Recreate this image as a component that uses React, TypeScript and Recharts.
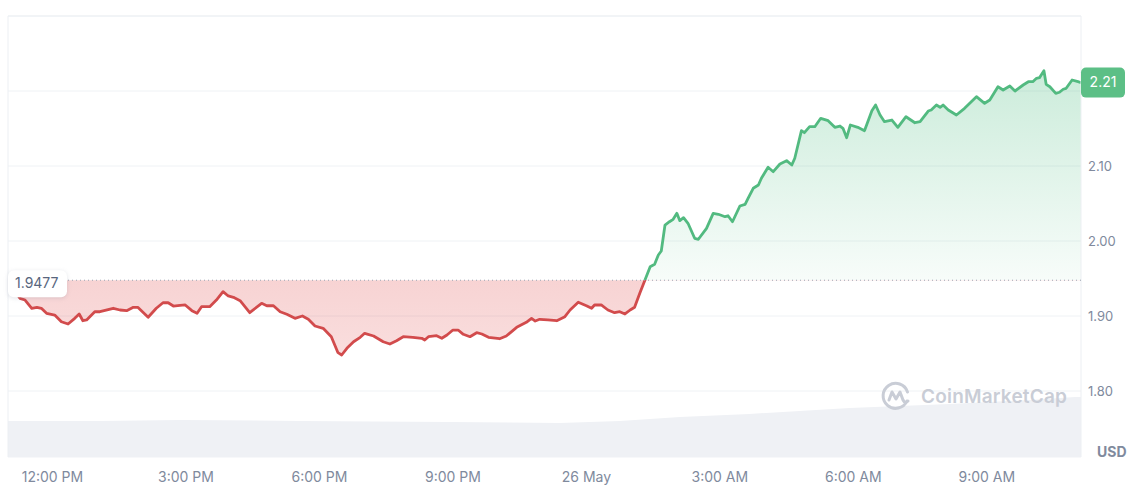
import { ComposedChart, Area, XAxis, YAxis, CartesianGrid, ReferenceLine } from "recharts"

// minutes after 11:00 AM (25 May)
const priceMinutes = [
  0, 16, 23, 32, 39, 45, 52, 63, 72, 81, 90, 96, 101, 106, 117, 124, 142, 151, 160, 169,
  175, 189, 200, 209, 216, 223, 232, 239, 248, 255, 261, 272, 281, 290, 297, 304, 313, 326, 342, 349,
  358, 367, 376, 387, 397, 405, 414, 425, 436, 445, 450, 457, 466, 475, 481, 493, 506, 515, 524, 533,
  546, 558, 562, 567, 578, 585, 592, 600, 607, 614, 623, 632, 639, 648, 663, 672, 686, 699, 706, 711,
  717, 728, 740, 751, 758, 769, 780, 787, 791, 800, 809, 818, 825, 832, 839, 845, 852, 859, 866, 872,
  877, 881, 886, 892, 897, 902, 906, 911, 917, 926, 931, 942, 951, 958, 967, 971, 977, 987, 994, 998,
  1005, 1012, 1016, 1025, 1032, 1041, 1050, 1057, 1061, 1070, 1074, 1081, 1088, 1096, 1106, 1115, 1122, 1126, 1131, 1136,
  1146, 1155, 1165, 1170, 1176, 1182, 1192, 1200, 1211, 1223, 1230, 1241, 1245, 1252, 1257, 1261, 1268, 1279, 1290, 1306,
  1317, 1324, 1335, 1342, 1351, 1358, 1369, 1376, 1382, 1387, 1391, 1397, 1400, 1405, 1413, 1418, 1423, 1427, 1435, 1443,
  1447,
]
const priceValues = [
  1.9477, 1.9236, 1.9213, 1.9103, 1.9116, 1.9103, 1.9036, 1.9013, 1.8924, 1.8893, 1.8969, 1.9027, 1.8937, 1.8947, 1.9057, 1.9057, 1.9103, 1.908, 1.9071, 1.9116,
  1.9116, 1.8983, 1.9103, 1.9177, 1.9177, 1.9133, 1.9143, 1.9147, 1.9071, 1.9036, 1.9124, 1.9124, 1.9213, 1.9324, 1.9267, 1.9249, 1.9204, 1.9044, 1.9169, 1.9137,
  1.9137, 1.9057, 1.9023, 1.8969, 1.9, 1.8956, 1.8867, 1.8836, 1.8724, 1.8511, 1.848, 1.8569, 1.8657, 1.8716, 1.8769, 1.8733, 1.8657, 1.8627, 1.8671, 1.8724,
  1.8716, 1.8703, 1.868, 1.8724, 1.8737, 1.8703, 1.8747, 1.8813, 1.8813, 1.8756, 1.8724, 1.8777, 1.876, 1.8716, 1.8697, 1.8733, 1.8849, 1.8916, 1.8969, 1.8933,
  1.8956, 1.8947, 1.8937, 1.8991, 1.908, 1.9183, 1.9137, 1.9103, 1.9147, 1.9147, 1.908, 1.9044, 1.9057, 1.9027, 1.908, 1.9116, 1.9303, 1.948, 1.9657, 1.9689,
  1.9813, 1.9867, 2.0213, 2.0257, 2.0289, 2.0369, 2.0271, 2.0311, 2.0236, 2.0036, 2.0023, 2.0169, 2.0369, 2.0356, 2.0324, 2.0337, 2.0257, 2.0467, 2.0489, 2.0569,
  2.0703, 2.0747, 2.0836, 2.0983, 2.0924, 2.1027, 2.1071, 2.1013, 2.1103, 2.1471, 2.1444, 2.1524, 2.1524, 2.1636, 2.1604, 2.1516, 2.1533, 2.1503, 2.1377, 2.1547,
  2.1516, 2.1471, 2.1737, 2.1813, 2.168, 2.1591, 2.1613, 2.1516, 2.1657, 2.1577, 2.1591, 2.1733, 2.1747, 2.1813, 2.1783, 2.1813, 2.1747, 2.168, 2.1769, 2.1924,
  2.1836, 2.188, 2.2057, 2.2013, 2.2067, 2.2, 2.208, 2.2124, 2.2124, 2.2169, 2.2177, 2.2271, 2.2089, 2.2057, 2.1969, 2.1983, 2.2023, 2.2036, 2.2147, 2.2124,
  2.2112,
]

// rolling 24h volume, billions USD
const volumeMinutes = [0, 124, 232, 394, 596, 744, 825, 906, 1000, 1135, 1270, 1378, 1439, 1447]
const volumeValues = [1.47, 1.47, 1.51, 1.47, 1.43, 1.39, 1.47, 1.63, 1.76, 2.0, 2.16, 2.33, 2.45, 2.45]

const tickMinutes = [60, 240, 420, 600, 780, 960, 1140, 1320]
const tickLabels = ["12:00 PM", "3:00 PM", "6:00 PM", "9:00 PM", "26 May", "3:00 AM", "6:00 AM", "9:00 AM"]

const priceTicks = [1.8, 1.9, 2.0, 2.1, 2.2]
const priceDomain = [1.712, 2.3]
const openPrice = 1.9477

const GREEN = "#52ba80"
const RED = "#d24b4c"
const AXIS_TEXT = "#808a9d"
const FONT = "Inter, 'Noto Sans', sans-serif"

const priceData = priceMinutes.map((m, i) => ({ m, price: priceValues[i] }))
const volumeData = volumeMinutes.map((m, i) => ({ m, vol: volumeValues[i] }))
const lastPrice = priceValues[priceValues.length - 1]
const xEnd = priceMinutes[priceMinutes.length - 1]

const TOP = 16
const BOTTOM = 457
const split = (priceDomain[1] - openPrice) / (priceDomain[1] - priceDomain[0])

function OpenTag(props: any) {
  const vb = props.viewBox || {}
  const x = vb.x ?? 0
  const y = vb.y ?? 0
  return (
    <g>
      <rect x={x} y={y - 10} width={59} height={27} rx={6} fill="#fff" style={{ filter: "drop-shadow(0 1px 2px rgba(88,102,126,0.18))" }} />
      <text x={x + 7} y={y + 3.5} fill="#58667e" fontSize={14} fontFamily={FONT} dominantBaseline="middle">
        {openPrice}
      </text>
    </g>
  )
}

function LastTag(props: any) {
  const vb = props.viewBox || {}
  const x = (vb.x ?? 0) + (vb.width ?? 0)
  const y = vb.y ?? 0
  return (
    <g>
      <rect x={x} y={y - 15} width={44} height={30} rx={5} fill="#5cbf86" />
      <text x={x + 22} y={y + 1} fill="#fff" fontSize={14} fontFamily={FONT} textAnchor="middle" dominantBaseline="middle">
        {lastPrice.toFixed(2)}
      </text>
    </g>
  )
}

export default function App() {
  return (
    <div style={{ position: "absolute", left: 0, top: 0, width: 1140, height: 489, background: "#fff", fontFamily: FONT }}>
      <ComposedChart width={1140} height={489} margin={{ top: TOP, right: 0, bottom: 0, left: 8 }}>
        <defs>
          <linearGradient id="strokeSplit" gradientUnits="userSpaceOnUse" x1="0" y1={TOP} x2="0" y2={BOTTOM}>
            <stop offset={split} stopColor={GREEN} />
            <stop offset={split} stopColor={RED} />
          </linearGradient>
          <linearGradient id="fillSplit" gradientUnits="userSpaceOnUse" x1="0" y1={TOP} x2="0" y2={BOTTOM}>
            <stop offset={0.1} stopColor="#3fb877" stopOpacity={0.28} />
            <stop offset={split} stopColor="#3fb877" stopOpacity={0.04} />
            <stop offset={split} stopColor="#e04848" stopOpacity={0.24} />
            <stop offset={1} stopColor="#e04848" stopOpacity={0.1} />
          </linearGradient>
        </defs>
        <CartesianGrid vertical={false} stroke="#eff2f5" />
        <XAxis
          type="number"
          dataKey="m"
          domain={[0, xEnd]}
          ticks={tickMinutes}
          tickFormatter={(v: number) => tickLabels[tickMinutes.indexOf(v)] ?? ""}
          axisLine={false}
          tickLine={false}
          tickSize={0}
          tickMargin={15}
          height={32}
          allowDataOverflow
          tick={{ fill: AXIS_TEXT, fontSize: 14, fontFamily: FONT }}
        />
        <YAxis
          orientation="right"
          type="number"
          domain={priceDomain}
          ticks={priceTicks}
          allowDataOverflow
          tickFormatter={(v: number) => (Math.abs(v - lastPrice) < 0.03 ? "" : v.toFixed(2))}
          axisLine={false}
          tickLine={false}
          tickSize={0}
          tickMargin={7}
          width={59}
          tick={{ fill: AXIS_TEXT, fontSize: 13, fontFamily: FONT, textAnchor: "start" }}
        />
        <YAxis yAxisId="vol" hide domain={[0, 18]} />
        <Area
          data={volumeData}
          yAxisId="vol"
          dataKey="vol"
          type="linear"
          stroke="none"
          fill="#eff1f5"
          fillOpacity={1}
          dot={false}
          activeDot={false}
          isAnimationActive={false}
        />
        <Area
          data={priceData}
          dataKey="price"
          type="linear"
          baseValue={openPrice}
          stroke="url(#strokeSplit)"
          strokeWidth={2.8}
          strokeLinejoin="round"
          fill="url(#fillSplit)"
          fillOpacity={1}
          dot={false}
          activeDot={false}
          isAnimationActive={false}
        />
        <ReferenceLine y={priceDomain[1]} stroke="#eceff3" />
        <ReferenceLine x={0} stroke="#eceff3" />
        <ReferenceLine x={xEnd} stroke="#eceff3" />
        <ReferenceLine y={openPrice} stroke="#9aa3b0" strokeDasharray="1 3" label={<OpenTag />} />
        <ReferenceLine y={lastPrice} stroke="none" label={<LastTag />} />
      </ComposedChart>
      <div style={{ position: "absolute", left: 880, top: 380, display: "flex", alignItems: "center", pointerEvents: "none" }}>
        <svg width={32} height={32} viewBox="0 0 32 32">
          <path d="M27 21 A12.5 12.5 0 1 1 27.5 12" fill="none" stroke="#c9cdd6" strokeWidth={3} strokeLinecap="round" />
          <path d="M9 20 L12 12 L16 19 L20 12 L23 20 Q25 24 28 21" fill="none" stroke="#c9cdd6" strokeWidth={3} strokeLinecap="round" strokeLinejoin="round" />
        </svg>
        <span style={{ marginLeft: 9, fontSize: 19, fontWeight: 600, color: "#c9cdd6", letterSpacing: 0.2 }}>CoinMarketCap</span>
      </div>
      <div style={{ position: "absolute", left: 1097, top: 443, fontSize: 14, fontWeight: 700, color: AXIS_TEXT }}>USD</div>
    </div>
  )
}
